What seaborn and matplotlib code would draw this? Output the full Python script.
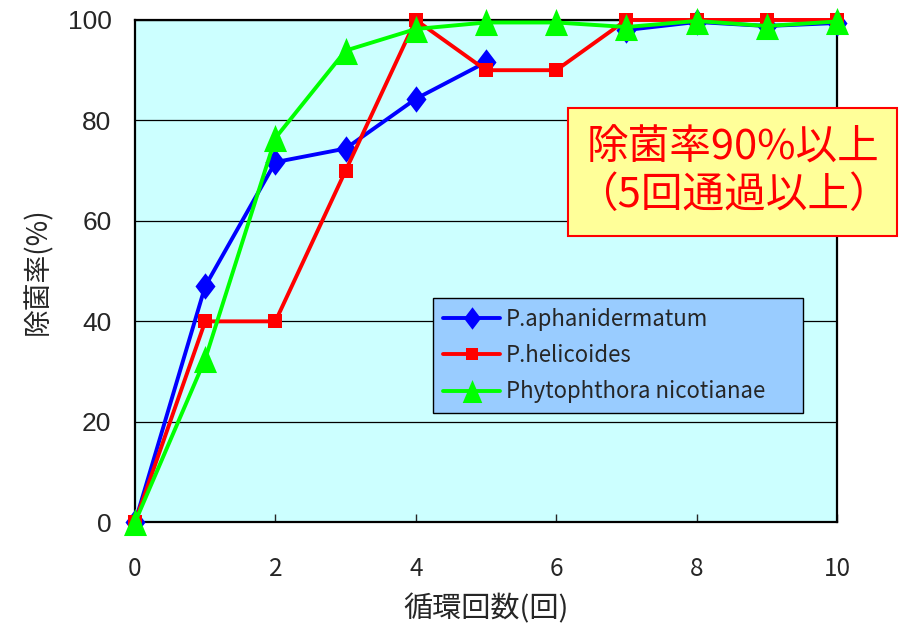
import numpy as np
import pandas as pd
import matplotlib
matplotlib.use('Agg')
import matplotlib.pyplot as plt
import seaborn as sns
from matplotlib.lines import Line2D
from matplotlib.patches import Rectangle

# data
cycles = [0, 1, 2, 3, 4, 5, 6, 7, 8, 9, 10]
p_aphan = [0, 47, 71.7, 74.4, 84.3, 91.6, np.nan, 98.0, 99.6, 98.8, 99.4]
p_helic = [0, 40, 40, 70, 100, 90, 90, 100, 100, 100, 100]
p_nicot = [0, 32.5, 76.5, 93.9, 98.2, 99.5, 99.5, 98.6, 99.8, 98.8, 99.7]
names = ['P.aphanidermatum', 'P.helicoides', 'Phytophthora nicotianae']
colors = ['#0000FF', '#FF0000', '#00FF00']

diamond = [(0, -1), (0.76, 0), (0, 1), (-0.76, 0)]
triangle = [(-0.85, -1), (0.85, -1), (0, 1)]
markers = [diamond, 's', triangle]
msizes = [19, 10, 19.5]

sns.set_style('white')
plt.rcParams['font.family'] = ['Noto Sans CJK JP', 'DejaVu Sans']

fig = plt.figure(figsize=(9, 6.24), dpi=100)
ax = fig.add_axes([0.15, 0.163, 0.78, 0.805])
ax.set_facecolor('#CCFFFF')

df = pd.DataFrame({'cycle': cycles, names[0]: p_aphan, names[1]: p_helic, names[2]: p_nicot})

for i, name in enumerate(names):
    d = df[['cycle', name]].copy()
    # break the line where a value is missing
    d['seg'] = d[name].isna().cumsum()
    d = d.dropna()
    for _, part in d.groupby('seg'):
        sns.lineplot(data=part, x='cycle', y=name, ax=ax, color=colors[i],
                     marker=markers[i], markersize=msizes[i], markeredgewidth=0,
                     linewidth=2.8, estimator=None, sort=False, zorder=3 + i,
                     clip_on=False)

ax.set_xlim(0, 10)
ax.set_ylim(0, 100)
ax.set_xticks([0, 2, 4, 6, 8, 10])
ax.set_yticks([0, 20, 40, 60, 80, 100])
ax.yaxis.grid(True, color='black', linewidth=0.9)
ax.set_axisbelow(True)
for s in ax.spines.values():
    s.set_color('black')
    s.set_linewidth(1.6)
ax.tick_params(axis='x', direction='in', length=6, width=1, labelsize=17.5, pad=24, bottom=True)
ax.tick_params(axis='y', direction='in', length=0, labelsize=19, pad=17, left=True)
for lab in ax.get_yticklabels():
    lab.set_fontfamily(['Liberation Sans', 'DejaVu Sans'])
ax.set_xlabel('循環回数(回)', fontsize=21, labelpad=9)
ax.set_ylabel('除菌率(%)', fontsize=20, labelpad=10)

handles = [Line2D([], [], color=colors[i], marker=markers[i], markersize=msizes[i] * 0.85,
                  markeredgewidth=0, linewidth=2.8) for i in range(3)]
leg = ax.legend(handles, names, loc='lower left', bbox_to_anchor=(0.424, 0.217, 0.528, 0.229),
                mode='expand', fontsize=16, frameon=True, fancybox=False,
                facecolor='#99CCFF', edgecolor='black', framealpha=1,
                handlelength=2.6, handletextpad=0.25, borderaxespad=0, labelspacing=0.6,
                borderpad=0.45)
leg.get_frame().set_linewidth(1)
leg.set_zorder(10)

fig.patches.append(Rectangle((0.631, 0.622), 0.366, 0.205, transform=fig.transFigure,
                             facecolor='#FFFF99', edgecolor='#FF0000', linewidth=1.5, zorder=5))
fig.text(0.8145, 0.7245, '除菌率90%以上\n（5回通過以上）', color='#FF0000', fontsize=30,
         ha='center', va='center', linespacing=1.2, zorder=6)

fig.savefig('out.png', dpi=100)
